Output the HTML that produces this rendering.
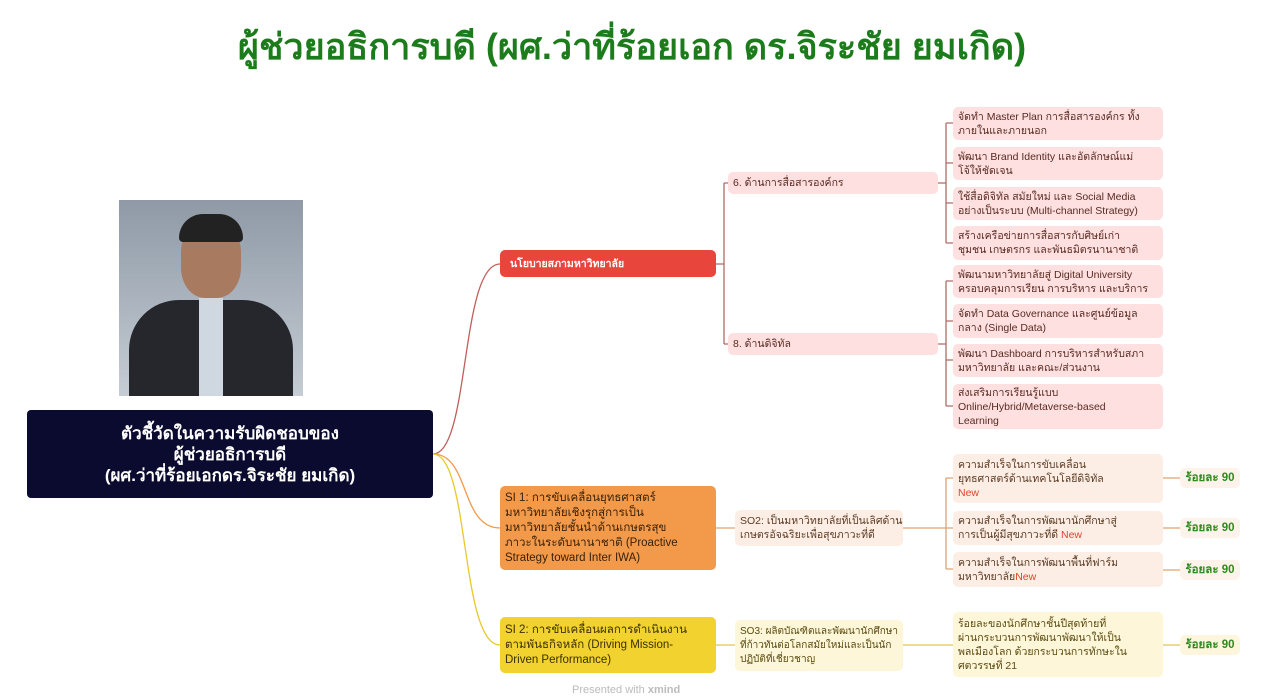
<!DOCTYPE html>
<html><head><meta charset="utf-8"><style>
body{margin:0;width:1264px;height:697px;background:#fff;position:relative;overflow:hidden;font-family:"Liberation Sans","Noto Sans CJK SC",sans-serif}
.b{position:absolute;box-sizing:border-box;border-radius:5px;font-size:10.5px;line-height:14px;color:#5a2a22;padding:3px 5px;display:flex;align-items:center;white-space:nowrap;overflow:hidden}
.p{background:#fde0df}
.o{background:#fdeee5;color:#5a3a22}
.y{background:#fdf6d8;color:#5a4a10}
.g{background:#fdf3ea;color:#2e8a1e;font-weight:bold;font-size:11.5px;justify-content:center;padding:0}
.n{color:#e0432f}
</style></head><body>
<div style="position:absolute;left:0;width:1264px;top:18px;text-align:center;font-size:36px;font-weight:bold;color:#1c7c1c">ผู้ช่วยอธิการบดี (ผศ.ว่าที่ร้อยเอก ดร.จิระชัย ยมเกิด)</div>
<div style="position:absolute;left:119px;top:200px;width:184px;height:196px;background:linear-gradient(#8f9aa6,#c5ccd4);overflow:hidden">
<div style="position:absolute;left:62px;top:22px;width:60px;height:76px;border-radius:40%;background:#a87a60"></div>
<div style="position:absolute;left:60px;top:14px;width:64px;height:28px;border-radius:30px 30px 5px 5px;background:#222"></div>
<div style="position:absolute;left:10px;top:100px;width:164px;height:110px;border-radius:50px 50px 0 0;background:#25272c"></div>
<div style="position:absolute;left:80px;top:98px;width:24px;height:98px;background:#cfd8e0"></div>
</div>
<div style="position:absolute;left:27px;top:410px;width:406px;height:88px;background:#0b0b30;border-radius:4px;color:#fff;font-weight:bold;font-size:17px;line-height:21px;text-align:center;display:flex;align-items:center;justify-content:center">ตัวชี้วัดในความรับผิดชอบของ<br>ผู้ช่วยอธิการบดี<br>(ผศ.ว่าที่ร้อยเอกดร.จิระชัย ยมเกิด)</div>
<svg width="1264" height="697" style="position:absolute;left:0;top:0" fill="none" stroke-width="1.3">
<path d="M433 454 C470 454 460 264 500 264" stroke="#c0605a"/>
<path d="M433 454 C470 454 460 528 500 528" stroke="#f3994a"/>
<path d="M433 454 C470 454 460 645 500 645" stroke="#e8c82a"/>
<path d="M716 264 H724 M724 183 V344 M724 183 H736 M724 344 H736" stroke="#b06a66"/>
<path d="M938 183 H946 M946 123 V243 M946 123 H953 M946 163 H953 M946 203 H953 M946 243 H953" stroke="#b06a66"/>
<path d="M938 344 H946 M946 281 V406 M946 281 H953 M946 321 H953 M946 360 H953 M946 406 H953" stroke="#b06a66"/>
<path d="M716 528 H735 M903 528 H946 M946 478 V569 M946 478 H953 M946 528 H953 M946 569 H953 M1163 478 H1180 M1163 528 H1180 M1163 570 H1180" stroke="#e0a070"/>
<path d="M716 645 H735 M903 645 H953 M1163 645 H1180" stroke="#e0c84a"/>
</svg>
<div class="b" style="left:500px;top:250px;width:216px;height:27px;background:#e8453c;color:#fff;font-weight:bold;padding-left:10px"><div>นโยบายสภามหาวิทยาลัย</div></div>
<div class="b p" style="left:728px;top:172px;width:210px;height:22px"><div>6. ด้านการสื่อสารองค์กร</div></div>
<div class="b p" style="left:728px;top:333px;width:210px;height:22px"><div>8. ด้านดิจิทัล</div></div>
<div class="b p" style="left:953px;top:107px;width:210px;height:33px"><div>จัดทำ Master Plan การสื่อสารองค์กร ทั้ง<br>ภายในและภายนอก</div></div>
<div class="b p" style="left:953px;top:147px;width:210px;height:33px"><div>พัฒนา Brand Identity และอัตลักษณ์แม่<br>โจ้ให้ชัดเจน</div></div>
<div class="b p" style="left:953px;top:187px;width:210px;height:33px"><div>ใช้สื่อดิจิทัล สมัยใหม่ และ Social Media<br>อย่างเป็นระบบ (Multi-channel Strategy)</div></div>
<div class="b p" style="left:953px;top:226px;width:210px;height:34px"><div>สร้างเครือข่ายการสื่อสารกับศิษย์เก่า<br>ชุมชน เกษตรกร และพันธมิตรนานาชาติ</div></div>
<div class="b p" style="left:953px;top:265px;width:210px;height:33px"><div>พัฒนามหาวิทยาลัยสู่ Digital University<br>ครอบคลุมการเรียน การบริหาร และบริการ</div></div>
<div class="b p" style="left:953px;top:304px;width:210px;height:34px"><div>จัดทำ Data Governance และศูนย์ข้อมูล<br>กลาง (Single Data)</div></div>
<div class="b p" style="left:953px;top:344px;width:210px;height:33px"><div>พัฒนา Dashboard การบริหารสำหรับสภา<br>มหาวิทยาลัย และคณะ/ส่วนงาน</div></div>
<div class="b p" style="left:953px;top:384px;width:210px;height:45px"><div>ส่งเสริมการเรียนรู้แบบ<br>Online/Hybrid/Metaverse-based<br>Learning</div></div>
<div class="b" style="left:500px;top:486px;width:216px;height:84px;background:#f3994a;color:#3a2208;font-size:11.5px;line-height:15px"><div>SI 1: การขับเคลื่อนยุทธศาสตร์<br>มหาวิทยาลัยเชิงรุกสู่การเป็น<br>มหาวิทยาลัยชั้นนำด้านเกษตรสุข<br>ภาวะในระดับนานาชาติ (Proactive<br>Strategy toward Inter IWA)</div></div>
<div class="b" style="left:500px;top:617px;width:216px;height:56px;background:#f2d22e;color:#3a3008;font-size:11.5px;line-height:15px"><div>SI 2: การขับเคลื่อนผลการดำเนินงาน<br>ตามพันธกิจหลัก (Driving Mission-<br>Driven Performance)</div></div>
<div class="b o" style="left:735px;top:510px;width:168px;height:36px"><div>SO2: เป็นมหาวิทยาลัยที่เป็นเลิศด้าน<br>เกษตรอัจฉริยะเพื่อสุขภาวะที่ดี</div></div>
<div class="b o" style="left:953px;top:454px;width:210px;height:49px"><div>ความสำเร็จในการขับเคลื่อน<br>ยุทธศาสตร์ด้านเทคโนโลยีดิจิทัล<br><span class="n">New</span></div></div>
<div class="b o" style="left:953px;top:511px;width:210px;height:34px"><div>ความสำเร็จในการพัฒนานักศึกษาสู่<br>การเป็นผู้มีสุขภาวะที่ดี <span class="n">New</span></div></div>
<div class="b o" style="left:953px;top:552px;width:210px;height:35px"><div>ความสำเร็จในการพัฒนาพื้นที่ฟาร์ม<br>มหาวิทยาลัย<span class="n">New</span></div></div>
<div class="b g" style="left:1180px;top:468px;width:60px;height:20px">ร้อยละ 90</div>
<div class="b g" style="left:1180px;top:518px;width:60px;height:20px">ร้อยละ 90</div>
<div class="b g" style="left:1180px;top:560px;width:60px;height:20px">ร้อยละ 90</div>
<div class="b y" style="left:735px;top:620px;width:168px;height:51px;font-size:10px"><div>SO3: ผลิตบัณฑิตและพัฒนานักศึกษา<br>ที่ก้าวทันต่อโลกสมัยใหม่และเป็นนัก<br>ปฏิบัติที่เชี่ยวชาญ</div></div>
<div class="b y" style="left:953px;top:612px;width:210px;height:65px"><div>ร้อยละของนักศึกษาชั้นปีสุดท้ายที่<br>ผ่านกระบวนการพัฒนาพัฒนาให้เป็น<br>พลเมืองโลก ด้วยกระบวนการทักษะใน<br>ศตวรรษที่ 21</div></div>
<div class="b g" style="left:1180px;top:635px;width:60px;height:20px;background:#fdf6dc">ร้อยละ 90</div>
<div style="position:absolute;left:572px;top:684px;font-size:11px;color:#bbb">Presented with <b>xmind</b></div>
</body></html>
